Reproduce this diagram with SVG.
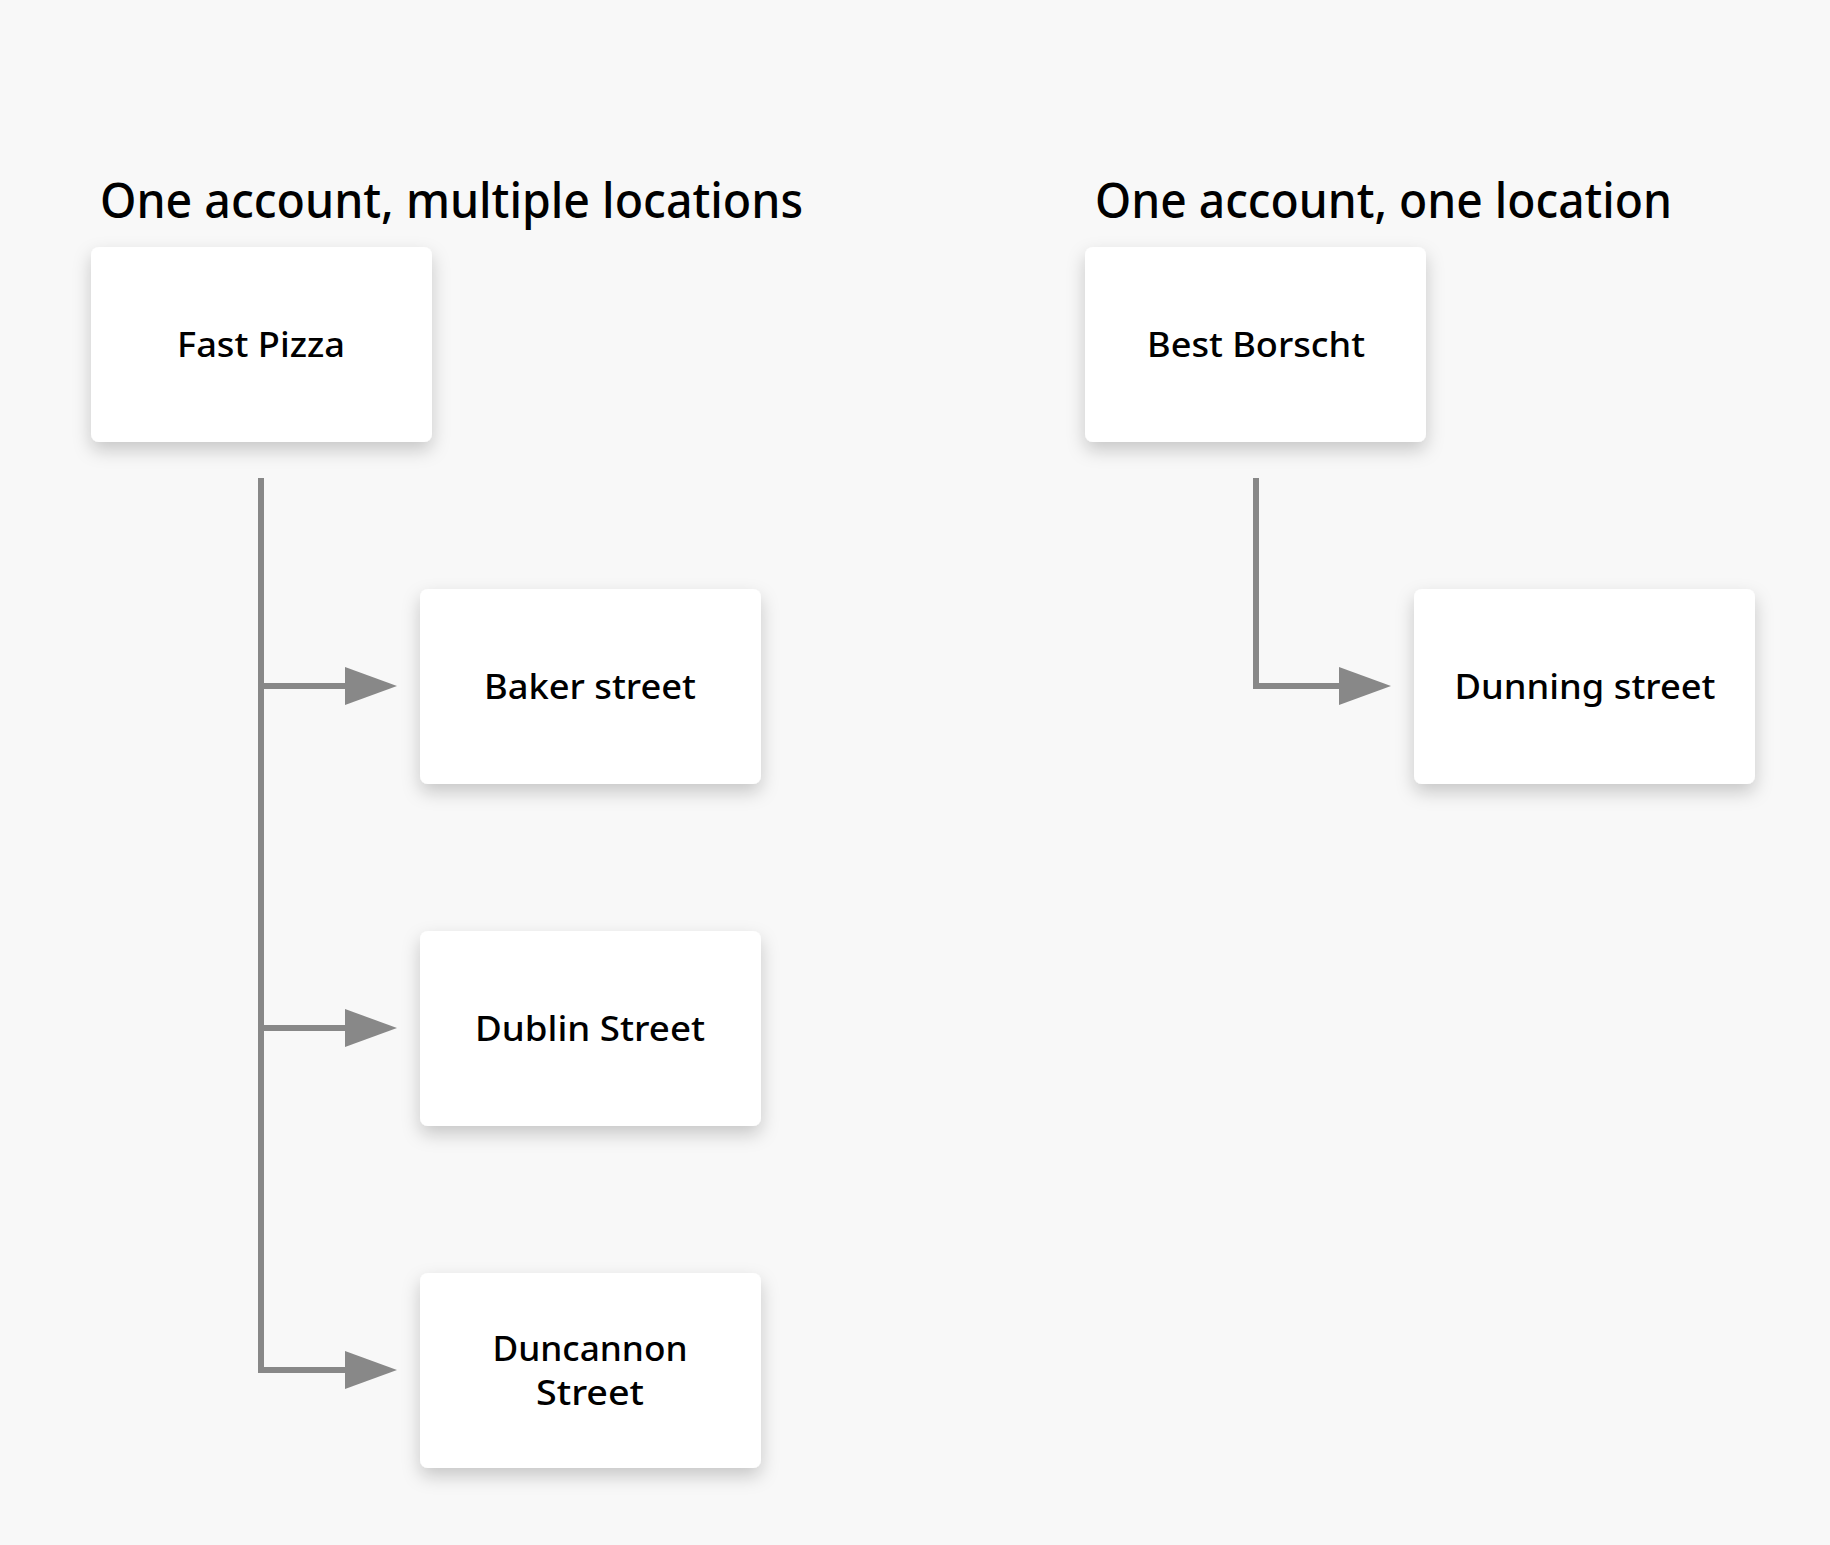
<svg xmlns="http://www.w3.org/2000/svg" width="1830" height="1545" viewBox="0 0 1830 1545">
<style>
.title{font-family:"Noto Sans","Liberation Sans",sans-serif;font-size:49px;font-weight:500;fill:#000;}
.label{font-family:"Noto Sans","Liberation Sans",sans-serif;font-size:35px;font-weight:500;fill:#000;text-anchor:middle;}
.box{fill:#ffffff;filter:url(#shadow);}
.conn{fill:none;stroke:#888888;stroke-width:6;}
</style>
<defs>
<filter id="shadow" x="-20%" y="-20%" width="140%" height="150%">
<feDropShadow dx="0" dy="8" stdDeviation="9" flood-color="#000" flood-opacity="0.2"/>
</filter>
<marker id="arrow" markerUnits="userSpaceOnUse" markerWidth="52" markerHeight="38" refX="0" refY="19" orient="auto">
<path d="M0,0 L52,19 L0,38 Z" fill="#888888"/>
</marker>
</defs>
<rect width="1830" height="1545" fill="#f8f8f8"/>
<text class="title" x="100" y="218" textLength="703" lengthAdjust="spacingAndGlyphs">One account, multiple locations</text>
<text class="title" x="1095" y="218" textLength="577" lengthAdjust="spacingAndGlyphs">One account, one location</text>
<g id="connectors">
<path class="conn" d="M261,478 V1370"/>
<path class="conn" d="M258,686 H345" marker-end="url(#arrow)"/>
<path class="conn" d="M258,1028 H345" marker-end="url(#arrow)"/>
<path class="conn" d="M258,1370 H345" marker-end="url(#arrow)"/>
<path class="conn" d="M1256,478 V686 H1339" marker-end="url(#arrow)"/>
</g>
<g id="fast-pizza">
<rect class="box" x="91" y="247" width="341" height="195" rx="8"/>
<text class="label" x="261" y="357" textLength="168" lengthAdjust="spacingAndGlyphs">Fast Pizza</text>
</g>
<g id="best-borscht">
<rect class="box" x="1085" y="247" width="341" height="195" rx="8"/>
<text class="label" x="1256" y="357" textLength="218" lengthAdjust="spacingAndGlyphs">Best Borscht</text>
</g>
<g id="baker-street">
<rect class="box" x="420" y="589" width="341" height="195" rx="8"/>
<text class="label" x="590" y="699" textLength="212" lengthAdjust="spacingAndGlyphs">Baker street</text>
</g>
<g id="dublin-street">
<rect class="box" x="420" y="931" width="341" height="195" rx="8"/>
<text class="label" x="590" y="1041" textLength="230" lengthAdjust="spacingAndGlyphs">Dublin Street</text>
</g>
<g id="duncannon-street">
<rect class="box" x="420" y="1273" width="341" height="195" rx="8"/>
<text class="label" x="590" y="1361" textLength="195" lengthAdjust="spacingAndGlyphs">Duncannon</text>
<text class="label" x="590" y="1405" textLength="108" lengthAdjust="spacingAndGlyphs">Street</text>
</g>
<g id="dunning-street">
<rect class="box" x="1414" y="589" width="341" height="195" rx="8"/>
<text class="label" x="1585" y="699" textLength="261" lengthAdjust="spacingAndGlyphs">Dunning street</text>
</g>
</svg>
